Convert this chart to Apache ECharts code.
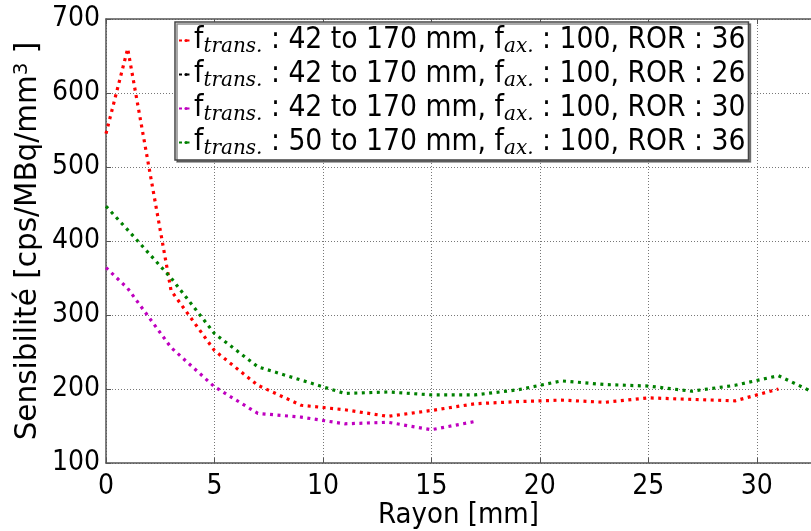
<!DOCTYPE html>
<html>
<head>
<meta charset="utf-8">
<script src="https://cdn.jsdelivr.net/npm/echarts@6/dist/echarts.min.js"></script>
<style>
html,body{margin:0;padding:0;background:#fff;}
#chart{width:811px;height:531px;}
</style>
</head>
<body>
<div id="chart"></div>
<script>
// ---- data ----
var xRed = [0, 1, 3, 5, 7, 9, 11, 13, 15, 17, 19, 21, 23, 25, 27, 29, 31];
var yRed = [545, 660, 333, 252, 205, 178, 172, 163, 171, 180, 183, 185, 182, 188, 186, 184, 200];
var xBlack = [];
var yBlack = [];
var xMagenta = [0, 1, 3, 5, 7, 9, 11, 13, 15, 17];
var yMagenta = [364, 336, 256, 203, 167, 162, 153, 155, 145, 156];
var xGreen = [0, 1, 3, 5, 7, 9, 11, 13, 15, 17, 19, 21, 23, 25, 27, 29, 31, 33];
var yGreen = [447, 415, 350, 275, 230, 212, 194, 196, 192, 192, 199, 211, 206, 204, 197, 205, 218, 190];

var legendRanges = ['42 to 170 mm', '42 to 170 mm', '42 to 170 mm', '50 to 170 mm'];
var legendAx = ['100', '100', '100', '100'];
var legendRor = ['36', '26', '30', '36'];
var seriesColors = ['#ff0000', '#000000', '#bf00bf', '#008000'];

var xTitle = 'Rayon [mm]';
var yTitle = 'Sensibilité [cps/MBq/mm';

function pairs(xs, ys) {
  var out = [];
  for (var i = 0; i < xs.length; i++) out.push([xs[i], ys[i]]);
  return out;
}

var allX = [xRed, xBlack, xMagenta, xGreen];
var allY = [yRed, yBlack, yMagenta, yGreen];
var names = [];
for (var i = 0; i < 4; i++) {
  names.push('f_trans. : ' + legendRanges[i] + ', f_ax. : ' + legendAx[i] + ', ROR : ' + legendRor[i] + ' #' + i);
}

var FONT = "'DejaVu Sans Condensed', 'DejaVu Sans', sans-serif";
var FONT_V = "'DejaVu Sans', sans-serif";

var series = [];
for (var k = 0; k < 4; k++) {
  series.push({
    name: names[k],
    type: 'line',
    data: pairs(allX[k], allY[k]),
    symbol: 'none',
    smooth: false,
    clip: true,
    color: seriesColors[k],
    lineStyle: { color: seriesColors[k], width: 3.2, type: [3, 4.5], cap: 'butt' },
    animation: false
  });
}

var chart = echarts.init(document.getElementById('chart'), null, { renderer: 'canvas' });
chart.setOption({
  backgroundColor: '#ffffff',
  animation: false,
  grid: { left: 106, right: 0, top: 19, bottom: 68, containLabel: false, outerBoundsMode: 'none' },
  legend: {
    orient: 'vertical',
    left: 175,
    top: 22,
    data: names,
    itemWidth: 14,
    itemHeight: 4,
    itemGap: 1,
    padding: [2, 3, 1, 3],
    backgroundColor: '#ffffff',
    borderColor: '#444',
    borderWidth: 1.5,
    shadowColor: 'rgba(0,0,0,0.45)',
    shadowOffsetX: 2,
    shadowOffsetY: 2,
    shadowBlur: 0,
    selectedMode: false,
    formatter: function (name) {
      var i = names.indexOf(name);
      return 'f{s|trans.} : ' + legendRanges[i] + ', f{s|ax.} : ' + legendAx[i] + ', ROR : ' + legendRor[i];
    },
    textStyle: {
      fontFamily: FONT,
      fontSize: 29.7,
      color: '#000',
      lineHeight: 33,
      padding: [0, 0, 0, -4],
      rich: {
        s: {
          fontFamily: "'DejaVu Serif', 'Liberation Serif', serif",
          fontStyle: 'italic',
          fontSize: 20,
          color: '#000',
          lineHeight: 22,
          verticalAlign: 'bottom'
        }
      }
    }
  },
  xAxis: [{
    type: 'value',
    position: 'bottom',
    min: 0,
    max: 32.5,
    interval: 5,
    name: xTitle,
    nameLocation: 'middle',
    nameGap: 38,
    nameMoveOverlap: false,
    nameTextStyle: { fontFamily: FONT, fontSize: 29, color: '#000' },
    axisLine: { show: true, lineStyle: { color: '#555', width: 1.5 } },
    axisTick: { show: true, inside: true, length: 5, lineStyle: { color: '#555' } },
    axisLabel: {
      fontFamily: FONT, fontSize: 28, color: '#000', margin: 10,
      showMaxLabel: false,
      formatter: function (v) { return (v % 5 === 0) ? String(v) : ''; }
    },
    splitLine: { show: true, lineStyle: { color: '#777', width: 1, type: [1, 2] } }
  }, {
    type: 'value',
    position: 'top',
    min: 0,
    max: 32.5,
    interval: 5,
    axisLine: { show: true, onZero: false, lineStyle: { color: '#555', width: 1.5 } },
    axisTick: { show: true, inside: true, length: 5, lineStyle: { color: '#555' } },
    axisLabel: { show: false },
    splitLine: { show: false }
  }],
  yAxis: {
    type: 'value',
    min: 100,
    max: 700,
    interval: 100,
    name: yTitle + '{sup|3} ]',
    nameLocation: 'middle',
    nameGap: 62,
    nameRotate: 90,
    nameMoveOverlap: false,
    nameTextStyle: {
      fontFamily: FONT_V, fontSize: 29.5, color: '#000',
      rich: { sup: { fontFamily: FONT_V, fontSize: 20, verticalAlign: 'top', lineHeight: 32, color: '#000' } }
    },
    axisLine: { show: true, lineStyle: { color: '#555', width: 1.5 } },
    axisTick: { show: true, inside: true, length: 5, lineStyle: { color: '#555' } },
    axisLabel: { fontFamily: FONT, fontSize: 28, color: '#000', margin: 6 },
    splitLine: { show: true, lineStyle: { color: '#777', width: 1, type: [1, 2] } }
  },
  series: series
});
</script>
</body>
</html>
